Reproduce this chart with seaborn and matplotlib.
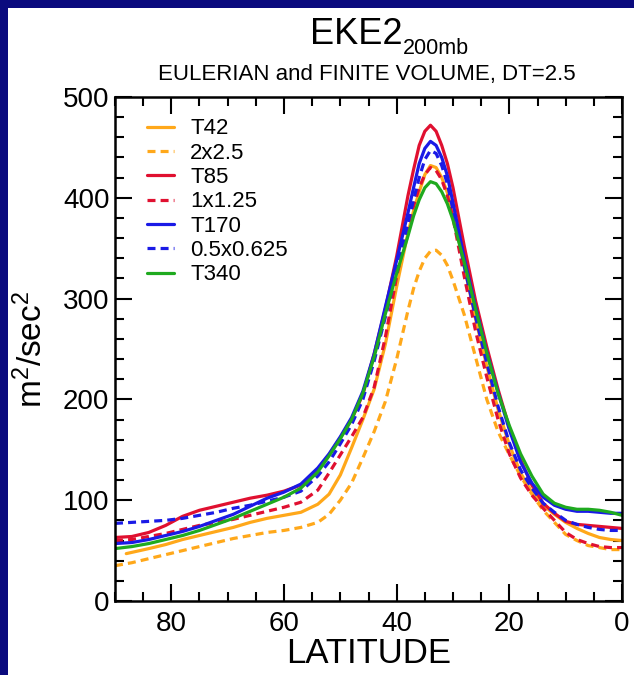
import matplotlib
matplotlib.use("Agg")
import matplotlib.pyplot as plt
from matplotlib.patches import Rectangle
from matplotlib.ticker import MultipleLocator
import seaborn as sns

# ---------------- data ----------------
lat = [90, 87, 84, 81, 78, 75, 72, 69, 66, 63,
       60, 57, 54, 52, 50, 48, 46, 44, 42, 40,
       38, 37, 36, 35, 34, 33, 32, 31, 30, 28,
       26, 24, 22, 20, 18, 16, 14, 12, 10, 8,
       6, 4, 2, 0]
lat_t42 = [88, 84, 81, 78, 75, 72, 69, 66, 63,
           60, 57, 54, 52, 50, 48, 46, 44, 42, 40,
           38, 37, 36, 35, 34, 33, 32, 31, 30, 28,
           26, 24, 22, 20, 18, 16, 14, 12, 10, 8,
           6, 4, 2, 0]

t42 = [47, 52, 56, 61, 65, 69, 73, 78, 82,
       85, 88, 96, 106, 125, 152, 180, 210, 255, 312,
       365, 387, 406, 423, 432, 430, 420, 405, 385, 332,
       280, 233, 190, 155, 127, 108, 95, 86, 78, 72,
       67, 63, 61, 60]
fv2x25 = [35, 38, 42, 46, 50, 54, 58, 62, 65, 68,
          70, 73, 78, 86, 100, 117, 142, 168, 198, 240,
          288, 310, 327, 340, 347, 348, 343, 333, 318, 284,
          242, 200, 168, 145, 124, 106, 90, 78, 66, 60,
          55, 53, 51, 51]
t85 = [63, 64, 68, 75, 84, 90, 94, 98, 102, 105,
       109, 115, 130, 145, 162, 180, 205, 245, 290, 342,
       402, 428, 452, 466, 472, 466, 452, 434, 410, 352,
       298, 252, 210, 172, 140, 115, 97, 87, 79, 76,
       75, 74, 73, 72]
fv1x125 = [60, 61, 64, 67, 71, 75, 78, 81, 85, 89,
           93, 98, 110, 127, 145, 163, 182, 212, 262, 322,
           372, 392, 410, 423, 430, 427, 418, 402, 380, 322,
           268, 222, 180, 146, 122, 105, 92, 80, 68, 61,
           57, 54, 53, 53]
t170 = [57, 58, 61, 65, 69, 74, 80, 86, 94, 102,
        108, 116, 132, 146, 163, 182, 208, 245, 292, 338,
        385, 410, 434, 449, 456, 452, 440, 422, 395, 340,
        292, 247, 207, 170, 138, 117, 103, 95, 91, 89,
        89, 88, 87, 87]
fv05 = [77, 78, 79, 80, 82, 85, 88, 92, 95, 99,
        103, 109, 124, 138, 156, 175, 200, 238, 282, 327,
        375, 398, 420, 438, 447, 444, 432, 414, 388, 332,
        282, 236, 193, 157, 130, 112, 97, 88, 80, 76,
        73, 71, 70, 70]
t340 = [52, 54, 57, 61, 65, 70, 76, 82, 89, 96,
        103, 112, 128, 144, 161, 180, 206, 242, 285, 325,
        362, 382, 398, 410, 416, 414, 406, 394, 378, 336,
        290, 246, 206, 174, 146, 124, 106, 97, 93, 91,
        91, 90, 88, 85]

labels = ["T42", "2x2.5", "T85", "1x1.25", "T170", "0.5x0.625", "T340"]
x_ticks = [80, 60, 40, 20, 0]
y_ticks = [0, 100, 200, 300, 400, 500]

# ---------------- style ----------------
sns.set_theme(style="ticks")
plt.rcParams["font.family"] = ["Liberation Sans", "DejaVu Sans"]
plt.rcParams["mathtext.fontset"] = "custom"
plt.rcParams["mathtext.rm"] = "Liberation Sans"
plt.rcParams["mathtext.it"] = "Liberation Sans"

ORANGE = "#FFA81A"
RED = "#E01030"
BLUE = "#1A1AE6"
GREEN = "#1FAA1F"

fig = plt.figure(figsize=(6.34, 6.75), dpi=100, facecolor="#0a0a7e")
fig.patches.append(Rectangle((8 / 634, 0), 1, 1 - 8 / 675, transform=fig.transFigure,
                             facecolor="white", edgecolor="none", zorder=-10))
ax = fig.add_axes([115 / 634, 74 / 675, 507 / 634, 504 / 675])
ax.set_zorder(5)
ax.set_facecolor("white")

dash = (0, (2.5, 1.6))
series = [
    (lat_t42, t42, ORANGE, "-"),
    (lat, fv2x25, ORANGE, dash),
    (lat, t85, RED, "-"),
    (lat, fv1x125, RED, dash),
    (lat, t170, BLUE, "-"),
    (lat, fv05, BLUE, dash),
    (lat, t340, GREEN, "-"),
]
for (xx, yy, col, ls), lab in zip(series, labels):
    sns.lineplot(x=xx, y=yy, ax=ax, color=col, linestyle=ls, lw=2.3,
                 label=lab, estimator=None, sort=False)

ax.set_xlim(90, 0)
ax.set_ylim(0, 500)
ax.set_xticks(x_ticks)
ax.set_yticks(y_ticks)
ax.xaxis.set_minor_locator(MultipleLocator(5))
ax.yaxis.set_minor_locator(MultipleLocator(20))
ax.tick_params(which="both", direction="in", top=True, right=True, color="black",
               width=1.5)
ax.tick_params(which="major", length=12, labelsize=20, labelcolor="black")
ax.tick_params(which="minor", length=6.5)
ax.tick_params(axis="x", which="major", pad=7)
ax.tick_params(axis="y", which="major", pad=4)
for s in ax.spines.values():
    s.set_linewidth(1.8)
    s.set_color("black")

ax.set_xlabel("LATITUDE", fontsize=25, color="black")
ax.xaxis.set_label_coords(0.5, -0.072)
ax.xaxis.label.set_va("top")
ax.set_ylabel(r"m$^2$/sec$^2$", fontsize=24, color="black")
ax.yaxis.set_label_coords(-0.13, 0.5)

leg = ax.legend(loc="upper left", bbox_to_anchor=(0.045, 0.975), frameon=False,
                fontsize=16, handlelength=1.25, handletextpad=0.7,
                labelspacing=0.15, borderaxespad=0)
for t in leg.get_texts():
    t.set_color("black")

fig.text(310 / 634, 1 - 44 / 675, "EKE2", fontsize=26, ha="left", va="baseline",
         color="black")
fig.text(403 / 634, 1 - 54 / 675, "200mb", fontsize=15.5, ha="left", va="baseline",
         color="black")
fig.text(367 / 634, 1 - 80 / 675, "EULERIAN and FINITE VOLUME, DT=2.5", fontsize=16,
         ha="center", va="baseline", color="black")

fig.savefig("out.png", dpi=100, facecolor=fig.get_facecolor())
